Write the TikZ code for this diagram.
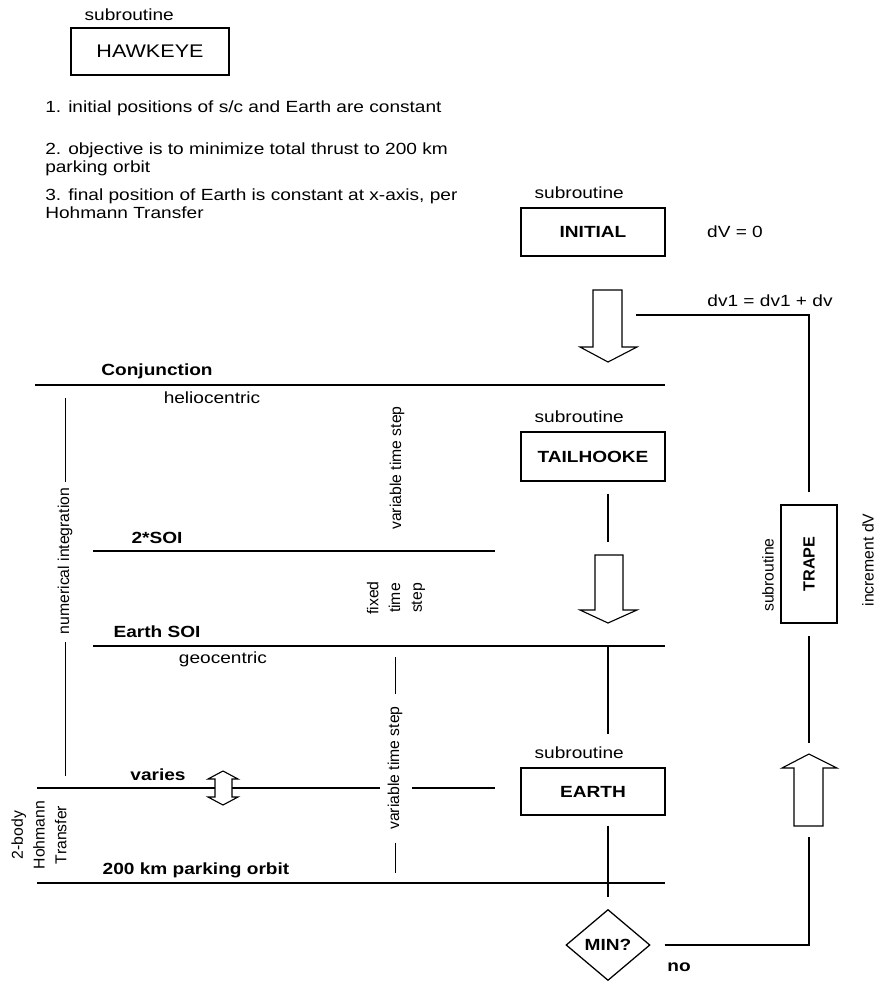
\documentclass[tikz,border=0pt]{standalone}
\usepackage{graphicx}
\usepackage{fontspec}
\setmainfont[FakeStretch=1.18]{Liberation Sans}
\newfontfamily\rotfont{Liberation Sans}
\usetikzlibrary{positioning,shapes.geometric}

\begin{document}
\begin{tikzpicture}[
  x=0.25mm, y=-0.25mm,
  txt/.style={inner sep=1mm,font=\fontsize{11.5}{12.8}\selectfont},
  bold/.style={inner sep=1mm,font=\fontsize{11.5}{12.8}\selectfont\bfseries},
  rot/.style={inner sep=1mm,rotate=90,align=center,font=\rotfont\fontsize{11.2}{15.5}\selectfont},
  box/.style={draw,line width=0.9pt,minimum width=36mm,minimum height=12mm,inner sep=0pt,font=\fontsize{11.5}{12.8}\selectfont\bfseries},
  level/.style={line width=1.6pt},
  flow/.style={line width=1.6pt},
  guide/.style={line width=0.7pt},
  hollow/.style={draw,fill=white,line width=0.8pt,line join=miter}
]
  \useasboundingbox (0,0) rectangle (880,986);

  \node[box,minimum width=39.5mm,minimum height=11.75mm,font=\fontsize{13}{14}\selectfont] (hawk) at (150,51.5) {HAWKEYE};
  \node[txt,above right=0.5mm and 2.5mm of hawk.north west] (subhawk) {subroutine};

  \node[txt,anchor=west,align=left] (item1) at (41,108) {1. initial positions of s/c and Earth are constant};
  \node[txt,anchor=west,align=left] (item2) at (41,159) {2. objective is to minimize total thrust to 200 km\\parking orbit};
  \node[txt,anchor=west,align=left] (item3) at (41,204) {3. final position of Earth is constant at x-axis, per\\Hohmann Transfer};

  \node[box] (init) at (593,232) {INITIAL};
  \node[txt,above right=1mm and 2.5mm of init.north west] (subinit) {subroutine};
  \node[txt] (dvzero) at (735,232) {dV = 0};
  \node[txt] (dvsum) at (770,301) {dv1 = dv1 + dv};

  \node[box,minimum height=12.25mm] (tail) at (593,456.5) {TAILHOOKE};
  \node[txt,above right=1mm and 2.5mm of tail.north west] (subtail) {subroutine};

  \node[box,minimum height=11.75mm] (earth) at (593,791.5) {EARTH};
  \node[txt,above right=1mm and 2.5mm of earth.north west] (subearth) {subroutine};

  \node[box,minimum width=14mm,minimum height=29.5mm] (trape) at (809,564) {\rotatebox{90}{\rotfont\bfseries TRAPE}};
  \node[rot] (subtrape) at (768,575) {subroutine};
  \node[rot] (incr) at (868,560) {increment dV};

  \node[draw,diamond,aspect=1.18,minimum width=21mm,minimum height=17.75mm,inner sep=0pt,line width=0.9pt,font=\fontsize{11.5}{12.8}\selectfont\bfseries] (minq) at (608,945) {MIN?};
  \node[bold] (no) at (679,967) {no};

  \draw[level] (35,385) -- (665,385);
  \draw[level] (93,551) -- (495,551);
  \coordinate (soi) at (665,646);
  \draw[level] (93,646) -- (soi);
  \draw[level] (37,788) -- (380,788) (412,788) -- (495,788);
  \draw[level] (37,883) -- (665,883);

  \node[bold] (conj) at (157,371) {Conjunction};
  \node[txt] (helio) at (212,398) {heliocentric};
  \node[bold] (twosoi) at (157,538) {2*SOI};
  \node[bold] (earthsoi) at (157,632) {Earth SOI};
  \node[txt] (geo) at (223,659) {geocentric};
  \node[bold] (varies) at (158,775) {varies};
  \node[bold] (park) at (196,870) {200 km parking orbit};

  \node[rot] (numint) at (65,561) {numerical integration};
  \draw[guide] (numint.east) ++(0,-2) -- ++(0,-84);
  \draw[guide] (numint.west) ++(0,4) -- ++(0,134);
  \node[rot] (vtsup) at (397,468) {variable time step};
  \node[rot] (fixed) at (396,598) {fixed\\time\\step};
  \node[rot] (vtslow) at (395,768) {variable time step};
  \draw[guide] (vtslow.east) ++(0,-8) -- ++(0,-37);
  \draw[guide] (vtslow.west) ++(0,9) -- ++(0,30);
  \node[rot] (hohmann) at (39,835) {2-body\\Hohmann\\Transfer};

  \draw[hollow] (593,290) -- (622,290) -- (622,347) -- (637,347) -- (608,362) -- (580,347) -- (593,347) -- cycle;
  \draw[hollow] (595,555) -- (623,555) -- (623,610) -- (637,610) -- (608,623) -- (580,610) -- (595,610) -- cycle;
  \draw[hollow] (794,826) -- (823,826) -- (823,768) -- (837,768) -- (809,754) -- (782,768) -- (794,768) -- cycle;
  \draw[hollow] (215,779) -- (208,779) -- (223,771) -- (238,779) -- (232,779) -- (232,797) -- (238,797) -- (223,805) -- (208,797) -- (215,797) -- cycle;

  \coordinate (fb) at (636,315);
  \coordinate (dntop) at (608,555);
  \coordinate (uptip) at (809,754);
  \coordinate (upend) at (809,826);
  \draw[flow,shorten <=3mm] (trape.north) |- (fb);
  \draw[flow,shorten <=3mm,shorten >=2.75mm] (trape.south) -- (uptip);
  \draw[flow,shorten <=3.5mm,shorten >=2.75mm] (minq.east) -| (upend);
  \draw[flow,shorten <=3mm,shorten >=3.25mm] (tail.south -| dntop) -- (dntop);
  \draw[flow,shorten >=8.25mm] (soi -| dntop) -- (earth.north -| dntop);
  \draw[flow,shorten <=2.5mm,shorten >=3mm] (earth.south -| minq.north) -- (minq.north);
\end{tikzpicture}
\end{document}
